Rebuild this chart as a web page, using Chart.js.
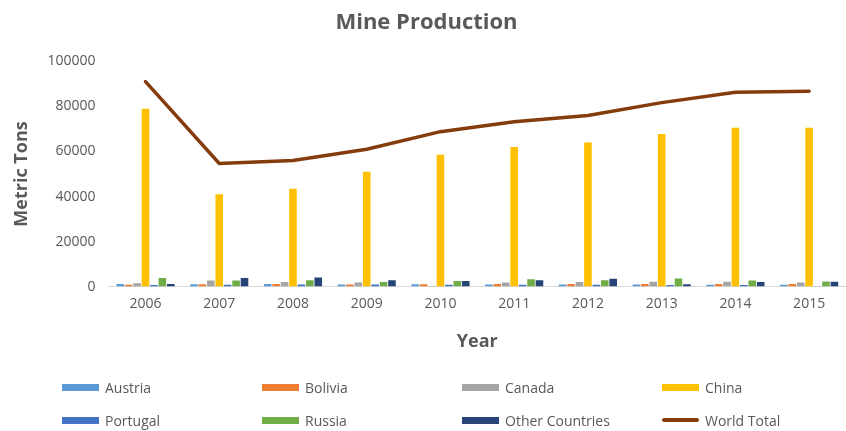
<!DOCTYPE html>
<html lang="en">
<head>
  <meta charset="UTF-8">
  <title>Mine Production</title>
  <script src="https://cdn.jsdelivr.net/npm/chart.js"></script>
  <style>
    body {
      margin: 0;
      background: #fff;
      font-family: 'Open Sans', sans-serif;
    }

    #wrap {
      position: relative;
      width: 846px;
      height: 431px;
    }

    #legend {
      position: absolute;
      left: 62px;
      top: 377px;
      display: grid;
      grid-template-columns: repeat(4, 200px);
      row-gap: 13px;
      font-size: 14px;
      color: #595959;
    }

    .item {
      display: flex;
      align-items: center;
      height: 20px;
    }

    .swatch {
      width: 37px;
      margin-right: 6px;
    }
  </style>
</head>
<body>
  <div id="wrap">
    <canvas id="mineChart" width="846" height="431"></canvas>
    <div id="legend"></div>
  </div>

  <script>
    const years = ['2006', '2007', '2008', '2009', '2010', '2011', '2012', '2013', '2014', '2015'];

    const austria = [1200, 1000, 1100, 900, 1000, 900, 900, 900, 800, 800];
    const bolivia = [800, 1000, 1100, 900, 1000, 1100, 1200, 1200, 1200, 1100];
    const canada = [1500, 2700, 2000, 1800, 300, 1800, 2000, 2100, 2200, 1800];
    const china = [79000, 41000, 43500, 51000, 58500, 62000, 64000, 67800, 70500, 70500];
    const portugal = [700, 800, 900, 900, 800, 800, 800, 700, 700, 100];
    const russia = [3800, 2700, 2800, 2000, 2500, 3300, 2800, 3600, 2700, 2300];
    const otherCountries = [1200, 3800, 4000, 2800, 2500, 2800, 3500, 1000, 2000, 2200];
    const worldTotal = [91000, 54700, 56000, 61000, 68800, 73200, 76000, 81700, 86300, 86800];

    const yTicks = [0, 20000, 40000, 60000, 80000, 100000];

    const grey = '#595959';

    function barSet(label, data, color) {
      return {
        type: 'bar',
        label: label,
        data: data,
        backgroundColor: color,
        categoryPercentage: 0.8,
        barPercentage: 0.9,
        order: 1
      };
    }

    const datasets = [
      barSet('Austria', austria, '#5B9BD5'),
      barSet('Bolivia', bolivia, '#ED7D31'),
      barSet('Canada', canada, '#A5A5A5'),
      barSet('China', china, '#FFC000'),
      barSet('Portugal', portugal, '#4472C4'),
      barSet('Russia', russia, '#70AD47'),
      barSet('Other Countries', otherCountries, '#264478'),
      {
        type: 'line',
        label: 'World Total',
        data: worldTotal,
        borderColor: '#843C0C',
        backgroundColor: '#843C0C',
        borderWidth: 3.5,
        pointRadius: 0,
        tension: 0,
        borderCapStyle: 'round',
        order: 0
      }
    ];

    const ctx = document.getElementById('mineChart').getContext('2d');
    const mineChart = new Chart(ctx, {
      data: { labels: years, datasets: datasets },
      options: {
        responsive: false,
        animation: false,
        layout: {
          padding: { left: 7, right: 0, top: 0, bottom: 74 }
        },
        plugins: {
          legend: { display: false },
          tooltip: { enabled: false },
          title: {
            display: true,
            text: 'Mine Production',
            color: grey,
            font: { family: 'Open Sans', size: 22, weight: 'bold' },
            padding: { top: 10, bottom: 25 }
          }
        },
        scales: {
          x: {
            grid: {
              display: false,
              drawTicks: false
            },
            border: { color: '#D9D9D9', width: 1 },
            ticks: {
              color: grey,
              padding: 9,
              font: { family: 'Open Sans', size: 14 }
            },
            title: {
              display: true,
              text: 'Year',
              color: grey,
              font: { family: 'Open Sans', size: 18, weight: 'bold' },
              padding: { top: 10 }
            }
          },
          y: {
            min: 0,
            max: 100000,
            afterBuildTicks: function (axis) {
              axis.ticks = yTicks.map(function (v) { return { value: v }; });
            },
            grid: { display: false, drawTicks: false },
            border: { display: false },
            ticks: {
              color: grey,
              padding: 13,
              font: { family: 'Open Sans', size: 14 },
              callback: function (v) { return String(v); }
            },
            title: {
              display: true,
              text: 'Metric Tons',
              color: grey,
              font: { family: 'Open Sans', size: 18, weight: 'bold' },
              padding: { top: 4, bottom: 2 }
            }
          }
        }
      }
    });

    // legend laid out in 4 columns like the original
    const legend = document.getElementById('legend');
    mineChart.data.datasets.forEach(function (ds) {
      const item = document.createElement('div');
      item.className = 'item';
      const sw = document.createElement('span');
      sw.className = 'swatch';
      if (ds.type === 'line') {
        sw.style.height = '4px';
        sw.style.borderRadius = '2px';
        sw.style.background = ds.borderColor;
      } else {
        sw.style.height = '7px';
        sw.style.background = ds.backgroundColor;
      }
      item.appendChild(sw);
      item.appendChild(document.createTextNode(ds.label));
      legend.appendChild(item);
    });
  </script>
</body>
</html>
